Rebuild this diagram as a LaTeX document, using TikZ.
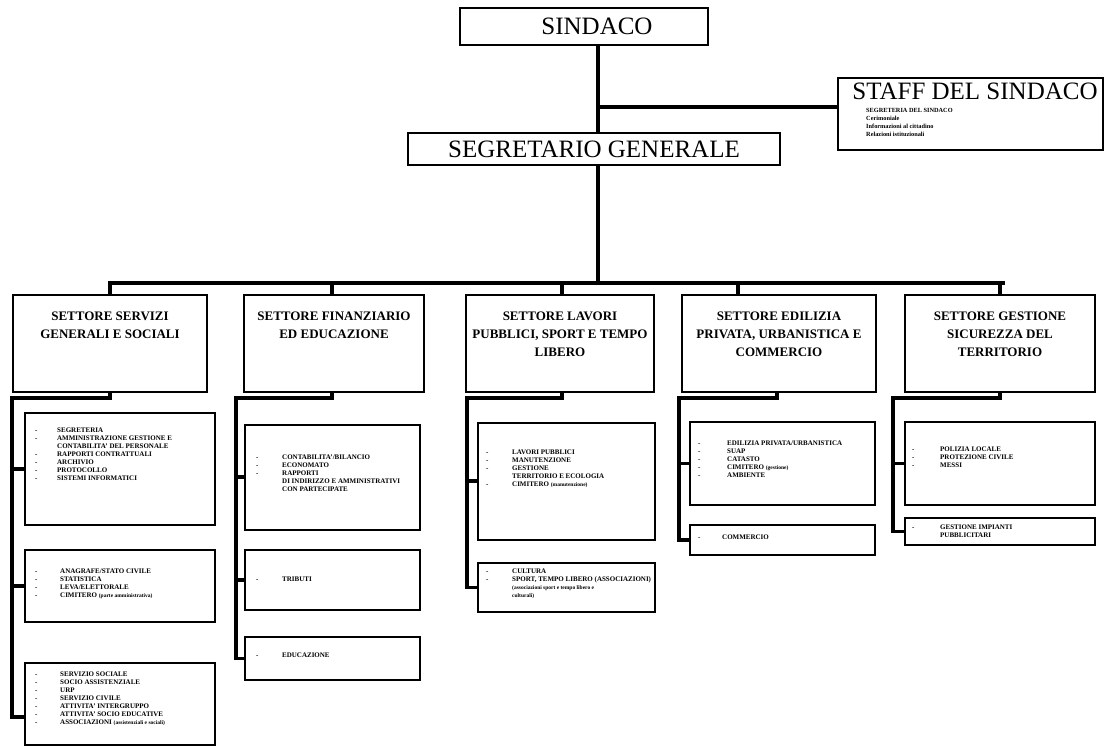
\documentclass[tikz,border=0pt]{standalone}
\usepackage{fontspec}
\setmainfont{Liberation Serif}
\usetikzlibrary{calc}
\tikzset{
  x=1pt,y=-1pt,
  topbox/.style={draw,line width=1.6pt,inner sep=0pt},
  bigtext/.style={inner sep=0pt,font=\fontsize{25}{25}\selectfont},
  settbox/.style={draw,line width=1.4pt,inner sep=0pt},
  subbox/.style={draw,line width=1.2pt,inner sep=0pt},
  title/.style={anchor=north,inner sep=0pt,align=center,font=\fontsize{13}{18}\selectfont\bfseries},
  lst/.style={anchor=north west,inner sep=0pt,font=\fontsize{7}{8}\selectfont\bfseries},
  conn/.style={line width=3.6pt,line cap=rect},
}
\newcommand\rbox[6]{\node[#1,minimum width={(#5-#3)*1pt},minimum height={(#6-#4)*1pt}] (#2) at ({(#3+#5)/2},{(#4+#6)/2}) {};}
\newcommand\itm[1]{-&#1\\}
\newcommand\cnt[1]{&#1\\}
\newcommand\sm{\fontsize{5.5}{8}\selectfont}
\begin{document}
\begin{tikzpicture}
\useasboundingbox (0,0) rectangle (1108,747);
% top
\rbox{topbox}{sind}{460}{8}{708}{45}
\node[bigtext] (sindt) at ($(sind)+(13,0)$) {SINDACO};
\rbox{topbox}{staff}{838}{78}{1103}{150}
\node[bigtext,anchor=north] (stafft) at (975,83) {STAFF DEL SINDACO};
\node[anchor=north west,inner sep=0pt,font=\fontsize{6.3}{8}\selectfont\bfseries,align=left] (staffl) at (866,108)
 {SEGRETERIA DEL SINDACO\\Cerimoniale\\Informazioni al cittadino\\Relazioni istituzionali};
\rbox{topbox}{seg}{408}{133}{780}{165}
\node[bigtext] (segt) at (seg) {SEGRETARIO GENERALE};
\coordinate (t) at (598,0);
\coordinate (bl) at (110,283);
\coordinate (br) at (1003,283);
\draw[conn] (sind.south -| t) -- (seg.north -| t);
\coordinate (st) at (598,107);
\draw[conn] (st) -- (st -| staff.west);
\draw[conn] (seg.south -| t) -- (t |- bl);
\draw[conn] (bl) -- (br);
% settori
\rbox{settbox}{s1}{13}{295}{207}{392}
\rbox{settbox}{s2}{244}{295}{424}{392}
\rbox{settbox}{s3}{466}{295}{654}{392}
\rbox{settbox}{s4}{682}{295}{876}{392}
\rbox{settbox}{s5}{905}{295}{1095}{392}
\node[title] (s1t) at (110,312) {SETTORE SERVIZI\\GENERALI E SOCIALI};
\node[title] (s2t) at (334,312) {SETTORE FINANZIARIO\\ED EDUCAZIONE};
\node[title] (s3t) at (560,312) {SETTORE LAVORI\\PUBBLICI, SPORT E TEMPO\\LIBERO};
\node[title] (s4t) at (779,312) {SETTORE EDILIZIA\\PRIVATA, URBANISTICA E\\COMMERCIO};
\node[title] (s5t) at (1000,312) {SETTORE GESTIONE\\SICUREZZA DEL\\TERRITORIO};
\foreach \xx/\n in {110/s1,332/s2,562/s3,738/s4,1000/s5}{
  \draw[conn] (bl -| \xx,0) -- (\n.north -| \xx,0);
}
% column 1
\rbox{subbox}{a1}{25}{413}{215}{525}
\rbox{subbox}{a2}{25}{550}{215}{622}
\rbox{subbox}{a3}{25}{663}{215}{745}
\node[lst] (a1l) at (35,427) {\begin{tabular}{@{}p{22pt}@{}l@{}}
\itm{SEGRETERIA}
\itm{AMMINISTRAZIONE GESTIONE E}
\cnt{CONTABILITA' DEL PERSONALE}
\itm{RAPPORTI CONTRATTUALI}
\itm{ARCHIVIO}
\itm{PROTOCOLLO}
\itm{SISTEMI INFORMATICI}
\end{tabular}};
\node[lst] (a2l) at (35,568) {\begin{tabular}{@{}p{25pt}@{}l@{}}
\itm{ANAGRAFE/STATO CIVILE}
\itm{STATISTICA}
\itm{LEVA/ELETTORALE}
\itm{CIMITERO {\sm(parte amministrativa)}}
\end{tabular}};
\node[lst] (a3l) at (35,671) {\begin{tabular}{@{}p{25pt}@{}l@{}}
\itm{SERVIZIO SOCIALE}
\itm{SOCIO ASSISTENZIALE}
\itm{URP}
\itm{SERVIZIO CIVILE}
\itm{ATTIVITA' INTERGRUPPO}
\itm{ATTIVITA' SOCIO EDUCATIVE}
\itm{ASSOCIAZIONI {\sm(assistenziali e sociali)}}
\end{tabular}};
\coordinate (k1) at (12,398);
\draw[conn] (s1.south -| 110,0) -- (110,398) -- (k1) -- (k1 |- 0,717);
\draw[conn] (k1 |- a1.west) -- (a1.west);
\draw[conn] (k1 |- a2.west) -- (a2.west);
\draw[conn] (k1 |- 0,717) -- (a3.west |- 0,717);
% column 2
\rbox{subbox}{b1}{245}{425}{420}{530}
\rbox{subbox}{b2}{245}{550}{420}{610}
\rbox{subbox}{b3}{245}{637}{420}{680}
\node[lst] (b1l) at (256,454) {\begin{tabular}{@{}p{26pt}@{}l@{}}
\itm{CONTABILITA'/BILANCIO}
\itm{ECONOMATO}
\itm{RAPPORTI}
\cnt{DI INDIRIZZO E AMMINISTRATIVI}
\cnt{CON PARTECIPATE}
\end{tabular}};
\node[lst] (b2l) at (256,576) {\begin{tabular}{@{}p{26pt}@{}l@{}}
\itm{TRIBUTI}
\end{tabular}};
\node[lst] (b3l) at (256,652) {\begin{tabular}{@{}p{26pt}@{}l@{}}
\itm{EDUCAZIONE}
\end{tabular}};
\coordinate (k2) at (236,398);
\draw[conn] (s2.south -| 332,0) -- (332,398) -- (k2) -- (k2 |- b3.west);
\draw[conn] (k2 |- 0,477) -- (b1.west |- 0,477);
\draw[conn] (k2 |- b2.west) -- (b2.west);
\draw[conn] (k2 |- b3.west) -- (b3.west);
% column 3
\rbox{subbox}{c1}{478}{423}{655}{540}
\rbox{subbox}{c2}{478}{563}{655}{612}
\node[lst] (c1l) at (486,449) {\begin{tabular}{@{}p{26pt}@{}l@{}}
\itm{LAVORI PUBBLICI}
\itm{MANUTENZIONE}
\itm{GESTIONE}
\cnt{TERRITORIO E ECOLOGIA}
\itm{CIMITERO {\sm(manutenzione)}}
\end{tabular}};
\node[lst] (c2l) at (486,568) {\begin{tabular}{@{}p{26pt}@{}l@{}}
\itm{CULTURA}
\itm{SPORT, TEMPO LIBERO (ASSOCIAZIONI)}
\cnt{{\sm(associazioni sport e tempo libero e}}
\cnt{{\sm culturali)}}
\end{tabular}};
\coordinate (k3) at (467,398);
\draw[conn] (s3.south -| 562,0) -- (562,398) -- (k3) -- (k3 |- c2.west);
\draw[conn] (k3 |- 0,481) -- (c1.west |- 0,481);
\draw[conn] (k3 |- c2.west) -- (c2.west);
% column 4
\rbox{subbox}{d1}{690}{422}{875}{505}
\rbox{subbox}{d2}{690}{525}{875}{555}
\node[lst] (d1l) at (698,440) {\begin{tabular}{@{}p{29pt}@{}l@{}}
\itm{EDILIZIA PRIVATA/URBANISTICA}
\itm{SUAP}
\itm{CATASTO}
\itm{CIMITERO {\sm(gestione)}}
\itm{AMBIENTE}
\end{tabular}};
\node[lst] (d2l) at (698,534) {\begin{tabular}{@{}p{24pt}@{}l@{}}
\itm{COMMERCIO}
\end{tabular}};
\coordinate (k4) at (679,398);
\draw[conn] (s4.south -| 777,0) -- (777,398) -- (k4) -- (k4 |- d2.west);
\draw[conn] (k4 |- d1.west) -- (d1.west);
\draw[conn] (k4 |- d2.west) -- (d2.west);
% column 5
\rbox{subbox}{e1}{905}{422}{1095}{505}
\rbox{subbox}{e2}{905}{518}{1095}{545}
\node[lst] (e1l) at (912,446) {\begin{tabular}{@{}p{28pt}@{}l@{}}
\itm{POLIZIA LOCALE}
\itm{PROTEZIONE CIVILE}
\itm{MESSI}
\end{tabular}};
\node[lst] (e2l) at (912,524) {\begin{tabular}{@{}p{28pt}@{}l@{}}
\itm{GESTIONE IMPIANTI}
\cnt{PUBBLICITARI}
\end{tabular}};
\coordinate (k5) at (893,398);
\draw[conn] (s5.south -| 1000,0) -- (1000,398) -- (k5) -- (k5 |- e2.west);
\draw[conn] (k5 |- e1.west) -- (e1.west);
\draw[conn] (k5 |- e2.west) -- (e2.west);
\end{tikzpicture}
\end{document}
